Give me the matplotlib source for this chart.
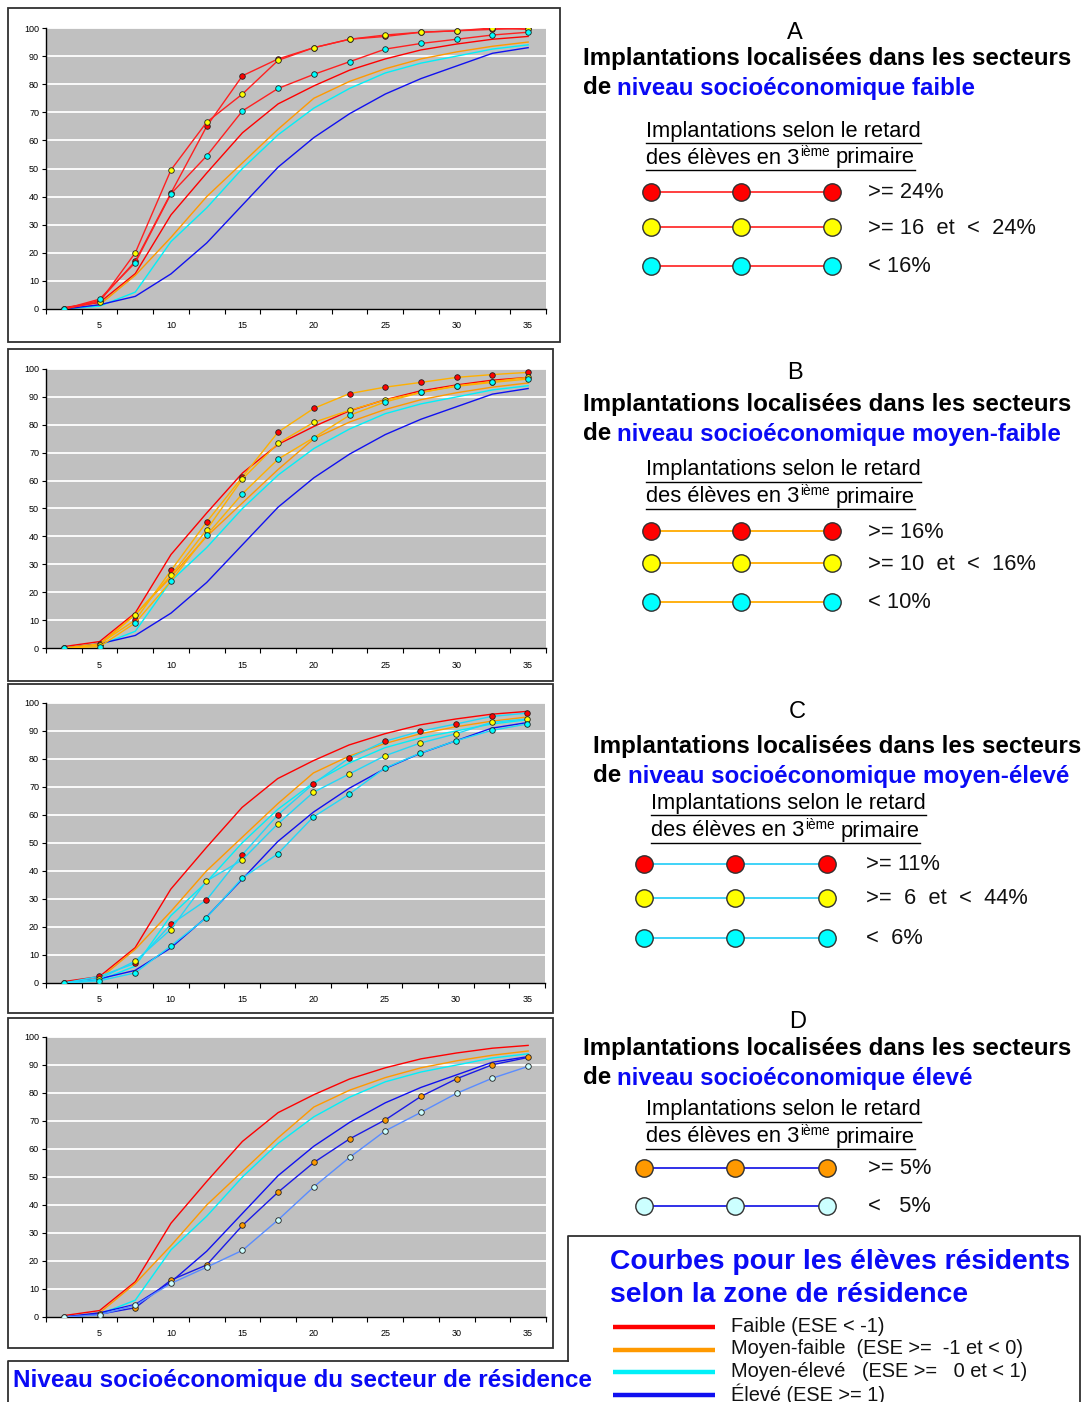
import matplotlib
matplotlib.use("Agg")
import matplotlib.pyplot as plt
from matplotlib.patches import Rectangle

plt.rcParams['font.family'] = ['Liberation Sans', 'DejaVu Sans']

# ---------------- DATA ----------------
seuils = [2.5, 5.0, 7.5, 10.0, 12.5, 15.0, 17.5, 20.0, 22.5, 25.0, 27.5, 30.0, 32.5, 35.0]
y_ticks = [0, 10, 20, 30, 40, 50, 60, 70, 80, 90, 100]

# reference curves (students by residence zone) - same in every panel
ref_faible = [0.5, 2.3, 12.6, 33.5, 48.4, 62.7, 73.0, 79.4, 85.0, 89.0, 92.2, 94.3, 96.0, 97.0]
ref_moyen_faible = [0.0, 1.5, 12.0, 25.5, 40.0, 52.0, 64.0, 75.0, 81.0, 85.5, 89.0, 91.5, 93.5, 95.0]
ref_moyen_eleve = [0.0, 1.0, 6.0, 24.0, 36.0, 50.0, 62.0, 71.5, 78.5, 84.0, 87.5, 90.0, 92.5, 94.0]
ref_eleve = [0.0, 1.5, 4.5, 12.5, 23.5, 37.0, 50.5, 61.0, 69.5, 76.5, 82.0, 86.5, 91.0, 93.0]

# Panel A (faible)
a_ge24 = [0.0, 3.0, 17.0, 41.3, 65.0, 83.0, 89.0, 93.0, 96.0, 97.0, 98.5, 99.0, 99.5, 100.0]
a_16_24 = [0.0, 2.5, 20.0, 49.5, 66.5, 76.5, 88.5, 93.0, 96.0, 97.5, 98.5, 99.0, 100.0, 99.5]
a_lt16 = [0.0, 3.5, 16.5, 41.0, 54.5, 70.5, 78.5, 83.5, 88.0, 92.5, 94.5, 96.0, 97.5, 98.5]
# Panel B (moyen-faible)
b_ge16 = [0.0, 1.5, 10.0, 27.8, 45.2, 61.3, 77.4, 85.9, 91.2, 93.5, 95.2, 97.0, 98.0, 98.8]
b_10_16 = [0.0, 1.0, 12.0, 26.0, 42.4, 60.6, 73.4, 80.9, 85.2, 88.9, 91.6, 94.0, 95.5, 97.0]
b_lt10 = [0.0, 0.5, 9.0, 24.0, 40.5, 55.3, 67.7, 75.4, 83.4, 88.2, 91.6, 93.8, 95.2, 96.4]
# Panel C (moyen-eleve)
c_ge11 = [0.0, 2.4, 7.0, 20.9, 29.6, 45.7, 60.0, 71.1, 80.3, 86.3, 89.9, 92.5, 95.2, 96.4]
c_6_44 = [0.0, 1.5, 7.8, 19.1, 36.4, 43.9, 56.8, 68.1, 74.6, 81.1, 85.7, 89.0, 93.1, 94.3]
c_lt6 = [0.0, 0.8, 3.6, 13.2, 23.3, 37.4, 46.1, 59.3, 67.4, 76.7, 82.1, 86.5, 90.2, 92.5]
# Panel D (eleve)
d_ge5 = [0.0, 1.0, 3.3, 13.2, 18.6, 32.7, 44.6, 55.2, 63.6, 70.4, 78.8, 85.1, 90.1, 92.7]
d_lt5 = [0.0, 0.8, 4.2, 12.0, 17.8, 23.8, 34.7, 46.5, 57.0, 66.5, 73.1, 79.9, 85.3, 89.5]

ref_labels = ["Faible (ESE < -1)", "Moyen-faible  (ESE >=  -1 et < 0)",
              "Moyen-élevé   (ESE >=   0 et < 1)", "Élevé (ESE >= 1)"]
panel_letters = ["A", "B", "C", "D"]
panel_niveaux = ["niveau socioéconomique faible", "niveau socioéconomique moyen-faible",
                 "niveau socioéconomique moyen-élevé", "niveau socioéconomique élevé"]
panel_cats = [[">= 24%", ">= 16  et  <  24%", "< 16%"],
              [">= 16%", ">= 10  et  <  16%", "< 10%"],
              [">= 11%", ">=  6  et  <  44%", "<  6%"],
              [">= 5%", "<   5%"]]

# ---------------- STYLE ----------------
RED = '#FF0000'
ORANGE = '#FF9900'
CYAN = '#00F0F8'
BLUE = '#1010F0'
ref_colors = [RED, ORANGE, CYAN, BLUE]
BLUE_TXT = '#0A0AF5'

W, H = 1081, 1402
fig = plt.figure(figsize=(W / 100, H / 100), dpi=100)
bg = fig.add_axes([0, 0, 1, 1], zorder=0)
bg.set_xlim(0, W)
bg.set_ylim(H, 0)
bg.axis('off')
R = fig.canvas.get_renderer()


def width(t):
    return t.get_window_extent(R).width


def fit(x, y, s, target_w, fs0=12, **kw):
    t = bg.text(x, y, s, fontsize=fs0, **kw)
    t.set_fontsize(fs0 * target_w / width(t))
    return t


# panel frames and plot areas (pixels: left, top, right, bottom)
frames = [(8, 8, 560, 342), (8, 349, 553, 681), (8, 684, 553, 1013), (8, 1018, 553, 1348)]
plots = [(46, 28, 546, 309), (46, 369, 546, 648), (46, 703, 545, 983), (46, 1037, 546, 1317)]

panel_series = [
    ([a_ge24, a_16_24, a_lt16], '#FF2020', ['#FF0000', '#FFFF00', '#00FFFF']),
    ([b_ge16, b_10_16, b_lt10], '#FFB000', ['#FF0000', '#FFFF00', '#00FFFF']),
    ([c_ge11, c_6_44, c_lt6], '#20D8F8', ['#FF0000', '#FFFF00', '#00FFFF']),
    ([d_ge5, d_lt5], None, ['#FF9900', '#CCFFFF']),
]
d_line_colors = ['#1A1AE6', '#5A8CFF']

refs = [ref_faible, ref_moyen_faible, ref_moyen_eleve, ref_eleve]

for i, (fr, pl) in enumerate(zip(frames, plots)):
    l, t, r, b = fr
    bg.add_patch(Rectangle((l, t), r - l, b - t, fill=False, ec='#303030', lw=1.3))
    l, t, r, b = pl
    ax = fig.add_axes([l / W, 1 - b / H, (r - l) / W, (b - t) / H], zorder=2)
    ax.set_facecolor('#C0C0C0')
    for yv in y_ticks[1:]:
        ax.axhline(yv, color='white', lw=1.3, zorder=0.5)
    for c, ref in zip(ref_colors, refs):
        ax.plot(seuils, ref, color=c, lw=1.0, zorder=2)
    series, lc, mfc = panel_series[i]
    for k, s in enumerate(series):
        col = lc if lc is not None else d_line_colors[k]
        ax.plot(seuils, s, color=col, lw=1.0, marker='o', ms=4.0, mfc=mfc[k],
                mec='#202020', mew=0.6, zorder=3)
    ax.set_xlim(seuils[0] - 1.25, seuils[-1] + 1.25)
    ax.set_ylim(0, 100)
    ax.set_yticks(y_ticks)
    ax.set_yticklabels([str(v) for v in y_ticks])
    ax.set_xticks(seuils[1::2])
    ax.set_xticklabels([str(int(v)) for v in seuils[1::2]])
    ax.set_xticks([v - 1.25 for v in seuils] + [seuils[-1] + 1.25], minor=True)
    ax.tick_params(axis='x', which='major', length=0, pad=9, labelsize=6.5)
    ax.tick_params(axis='x', which='minor', length=3.5, width=0.8, direction='out')
    ax.tick_params(axis='y', length=3, width=0.8, pad=2, labelsize=6.5)
    for sp in ['top', 'right']:
        ax.spines[sp].set_visible(False)
    for sp in ['left', 'bottom']:
        ax.spines[sp].set_color('black')
        ax.spines[sp].set_linewidth(1.0)

# ---------------- RIGHT SIDE TEXT BLOCKS ----------------
blocks = [
    dict(letter=(795, 33), t1=(583, 58), t2y=88, blue_x=617, u_x=646, u_y=(131, 158),
         rows=[192, 227, 266], mx=[651, 741, 832], lx=868, lc='#FF3030'),
    dict(letter=(795, 373), t1=(583, 405), t2y=434, blue_x=617, u_x=646, u_y=(470, 497),
         rows=[531, 563, 602], mx=[651, 741, 832], lx=868, lc='#FFAA00'),
    dict(letter=(797, 712), t1=(593, 747), t2y=776, blue_x=628, u_x=651, u_y=(803, 831),
         rows=[864, 898, 938], mx=[644, 735, 827], lx=866, lc='#30D0F8'),
    dict(letter=(798, 1022), t1=(583, 1049), t2y=1078, blue_x=617, u_x=646, u_y=(1110, 1137),
         rows=[1168, 1206], mx=[644, 735, 827], lx=868, lc='#2020E6'),
]

title_fs = None
und_fs = None
for i, bl in enumerate(blocks):
    bg.text(bl['letter'][0], bl['letter'][1], panel_letters[i], fontsize=17, ha='center',
            va='center', color='black')
    if title_fs is None:
        t = fit(bl['t1'][0], bl['t1'][1], "Implantations localisées dans les secteurs", 485,
                fontweight='bold', va='center', ha='left')
        title_fs = t.get_fontsize()
    else:
        bg.text(bl['t1'][0], bl['t1'][1], "Implantations localisées dans les secteurs",
                fontsize=title_fs, fontweight='bold', va='center', ha='left')
    bg.text(bl['t1'][0], bl['t2y'], "de", fontsize=title_fs, fontweight='bold', va='center', ha='left')
    bg.text(bl['blue_x'], bl['t2y'], panel_niveaux[i], fontsize=title_fs, fontweight='bold',
            va='center', ha='left', color=BLUE_TXT)
    # underlined sub-heading
    ux = bl['u_x']
    if und_fs is None:
        t = fit(ux, bl['u_y'][0], "Implantations selon le retard", 276, va='center', ha='left')
        und_fs = t.get_fontsize()
    else:
        t = bg.text(ux, bl['u_y'][0], "Implantations selon le retard", fontsize=und_fs,
                    va='center', ha='left')
    w_a = width(t)
    bg.plot([ux, ux + w_a], [bl['u_y'][0] + 12, bl['u_y'][0] + 12], color='black', lw=1.0)
    t1 = bg.text(ux, bl['u_y'][1], "des élèves en 3", fontsize=und_fs, va='center', ha='left')
    x1 = ux + width(t1) + 1
    t2 = bg.text(x1, bl['u_y'][1] - 6, "ième", fontsize=und_fs * 0.62, va='center', ha='left')
    x2 = x1 + width(t2) + und_fs * 0.35
    t3 = bg.text(x2, bl['u_y'][1], "primaire", fontsize=und_fs, va='center', ha='left')
    x3 = x2 + width(t3)
    bg.plot([ux, x3], [bl['u_y'][1] + 12, bl['u_y'][1] + 12], color='black', lw=1.0)
    # legend rows
    mfc = panel_series[i][2]
    for k, ry in enumerate(bl['rows']):
        bg.plot([bl['mx'][0], bl['mx'][-1]], [ry, ry], color=bl['lc'], lw=1.3, zorder=1)
        bg.plot(bl['mx'], [ry] * 3, ls='none', marker='o', ms=12.5, mfc=mfc[k],
                mec='#303030', mew=1.0, zorder=2)
        bg.text(bl['lx'], ry + 1, panel_cats[i][k], fontsize=und_fs, va='center', ha='left',
                color='#111111')

# ---------------- BOTTOM BOXES ----------------
bg.plot([8, 8, 568], [H, 1361, 1361], color='#303030', lw=1.3)
bg.plot([568, 568, 1080, 1080], [1361, 1236, 1236, H], color='#303030', lw=1.3)
fit(13, 1380, "Niveau socioéconomique du secteur de résidence", 573, fontweight='bold',
    color=BLUE_TXT, va='center', ha='left')

fit(610, 1262, "Courbes pour les élèves résidents", 457, fontweight='bold',
    color=BLUE_TXT, va='center', ha='left')
t = bg.text(610, 1295, "selon la zone de résidence", fontweight='bold', color=BLUE_TXT,
            va='center', ha='left', fontsize=12)
t.set_fontsize(12 * 355 / width(t))
lab_fs = None
for k, (c, lab) in enumerate(zip(ref_colors, ref_labels)):
    yy = 1327 + k * 22.7
    bg.plot([613, 715], [yy, yy], color=c, lw=3.2, solid_capstyle='butt')
    if lab_fs is None:
        tt = bg.text(731, yy - 1, ref_labels[1], fontsize=12, va='center', ha='left')
        lab_fs = 12 * 293 / width(tt)
        tt.remove()
    bg.text(731, yy - 1, lab, fontsize=lab_fs, va='center', ha='left', color='#111111')

fig.savefig("out.png", dpi=100, facecolor='white')
